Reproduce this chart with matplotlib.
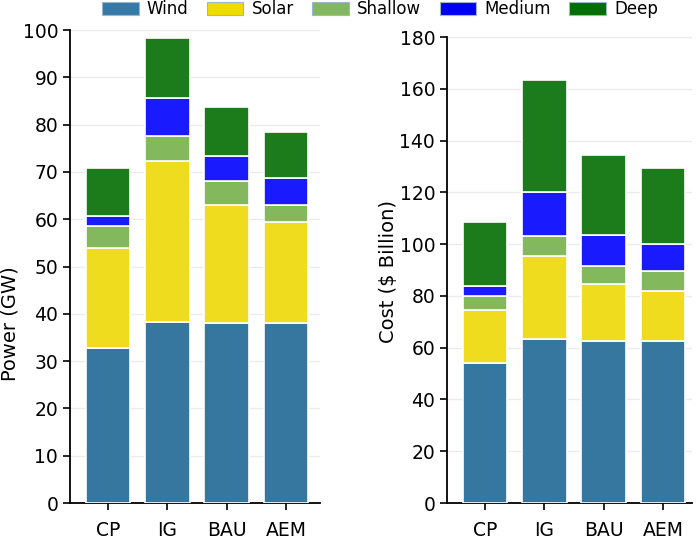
import matplotlib
matplotlib.use("Agg")
import matplotlib.pyplot as plt
from matplotlib.patches import Patch
import numpy as np

scenarios = ["CP", "IG", "BAU", "AEM"]
series = ["Wind", "Solar", "Shallow", "Medium", "Deep"]

# segment sizes
power_wind = [32.8, 38.3, 38.0, 38.0]
power_solar = [21.2, 34.0, 25.1, 21.5]
power_shallow = [4.6, 5.4, 4.9, 3.6]
power_medium = [2.1, 7.9, 5.4, 5.7]
power_deep = [10.1, 12.7, 10.4, 9.6]

cost_wind = [54.0, 63.3, 62.7, 62.7]
cost_solar = [20.5, 32.2, 21.8, 19.1]
cost_shallow = [5.5, 7.5, 7.0, 7.9]
cost_medium = [4.0, 17.0, 12.0, 10.3]
cost_deep = [24.5, 43.5, 31.0, 29.5]

bar_colors = ["#35779f", "#f0dc1e", "#84b85c", "#1a1aff", "#1c7c1c"]
legend_colors = ["#3678a6", "#f0da00", "#84b860", "#0000ee", "#006e00"]

fig = plt.figure(figsize=(7, 5.41), dpi=100)
ax1 = fig.add_axes([0.1, 0.0702, 0.357, 0.8743])
ax2 = fig.add_axes([0.6386, 0.0702, 0.35, 0.8614])

FS = 13.5

def draw(ax, data, ymax, step, ylabel, xr, label_y):
    x = np.arange(len(scenarios))
    bottom = np.zeros(len(scenarios))
    for vals, c in zip(data, bar_colors):
        ax.bar(x, vals, width=0.75, bottom=bottom, color=c,
               edgecolor="white", linewidth=1.2, zorder=3)
        bottom += np.array(vals)
    ax.set_ylim(0, ymax)
    ax.set_xlim(-0.64, xr)
    ax.set_yticks(np.arange(0, ymax + 1, step))
    ax.set_xticks(x)
    ax.set_xticklabels(scenarios)
    ax.tick_params(axis="both", labelsize=FS, width=1.2, length=5, colors="black")
    ax.tick_params(axis="x", pad=8)
    ax.grid(axis="y", color="#ebebeb", linewidth=1, zorder=0)
    ax.set_axisbelow(True)
    for s in ["top", "right"]:
        ax.spines[s].set_visible(False)
    for s in ["left", "bottom"]:
        ax.spines[s].set_linewidth(1.3)
    ax.set_ylabel(ylabel, fontsize=14, va="center")
    ax.yaxis.set_label_coords(-0.24, label_y)

draw(ax1, [power_wind, power_solar, power_shallow, power_medium, power_deep],
     100, 10, "Power (GW)", 3.57, 0.38)
draw(ax2, [cost_wind, cost_solar, cost_shallow, cost_medium, cost_deep],
     180, 20, "Cost ($ Billion)", 3.49, 0.496)

handles = [Patch(facecolor=c, edgecolor="#9ab8c8", linewidth=0.8) for c in legend_colors]
fig.legend(handles, series, loc="center", bbox_to_anchor=(380 / 700, 1 - 9 / 541), ncol=5,
           frameon=False, fontsize=12, handlelength=2.19, handleheight=0.84,
           columnspacing=1.1, handletextpad=0.5, borderpad=0, borderaxespad=0)

fig.savefig("out.png", dpi=100)
